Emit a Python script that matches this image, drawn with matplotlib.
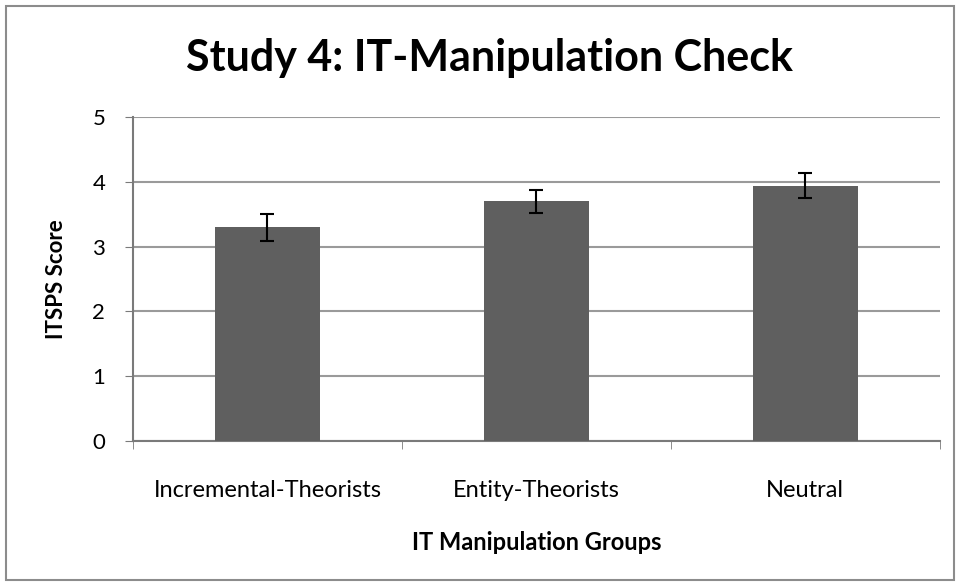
import numpy as np
import matplotlib
matplotlib.use('Agg')
import matplotlib.pyplot as plt
from matplotlib.patches import Rectangle

plt.rcParams['font.family'] = ['Lato', 'DejaVu Sans']

groups = ['Incremental-Theorists', 'Entity-Theorists', 'Neutral']
scores = [3.30, 3.70, 3.94]
errors = [0.21, 0.18, 0.19]
yticks = [0, 1, 2, 3, 4, 5]

fig = plt.figure(figsize=(9.6, 5.82), dpi=100)
# outer chart border
fig.patches.append(Rectangle((0.006, 0.004), 0.988, 0.986, transform=fig.transFigure,
                             fill=False, edgecolor='#8c8c8c', linewidth=1.5))

ax = fig.add_axes([0.1385, 0.2423, 0.8405, 0.5567])
x = np.arange(len(groups))
ax.bar(x, scores, width=0.39, color='#5f5f5f', zorder=3)
ax.errorbar(x, scores, yerr=errors, fmt='none', ecolor='black', elinewidth=1.5,
            capsize=5, capthick=1.5, zorder=4)

ax.set_xlim(-0.5, len(groups) - 0.5)
ax.set_ylim(0, 5)
ax.set_yticks(yticks)
ax.set_yticklabels([str(t) for t in yticks], fontsize=16)
ax.yaxis.grid(True, color='#9a9a9a', linewidth=1.5, zorder=0)

ax.set_xticks(x)
ax.set_xticklabels(groups, fontsize=17)
ax.set_xticks(np.arange(-0.5, len(groups), 1.0), minor=True)
ax.tick_params(axis='x', which='major', length=0, pad=28)
ax.tick_params(axis='x', which='minor', length=6, color='#7a7a7a', direction='out')
ax.tick_params(axis='y', length=6, color='#7a7a7a', direction='out', pad=14)

for side in ['top', 'right']:
    ax.spines[side].set_visible(False)
ax.spines['left'].set_color('#7a7a7a')
ax.spines['bottom'].set_color('#7a7a7a')
ax.spines['left'].set_linewidth(1.5)
ax.spines['bottom'].set_linewidth(1.5)

ax.set_ylabel('ITSPS Score', fontsize=16, fontweight='bold', labelpad=18)
ax.set_xlabel('IT Manipulation Groups', fontsize=17, fontweight='bold', labelpad=22)
fig.suptitle('Study 4: IT-Manipulation Check', fontsize=31, fontweight='bold',
             x=0.510, y=0.935)

fig.savefig('out.png', dpi=100)
